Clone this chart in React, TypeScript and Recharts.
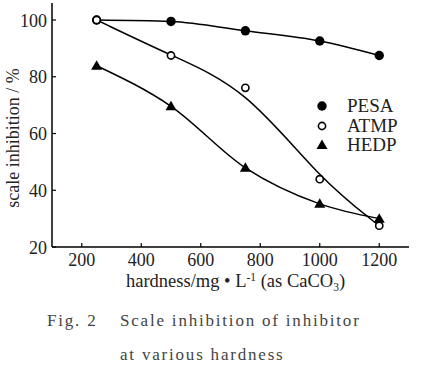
import React from 'react';
import { LineChart, Line, XAxis, YAxis, ReferenceArea } from 'recharts';

const hardness = [250, 500, 750, 1000, 1200];
const pesa = [100, 99.5, 96.2, 92.6, 87.5];
const atmp = [100, 87.5, 76.1, 43.9, 27.5];
const hedp = [83.9, 69.6, 47.9, 35.2, 30.0];
const xTicks = [200, 400, 600, 800, 1000, 1200];
const yTicks = [20, 40, 60, 80, 100];
const seriesNames = ['PESA', 'ATMP', 'HEDP'];
const curveTypes: Record<string, any> = { PESA: 'monotone', ATMP: 'basis', HEDP: 'monotone' };

const data = hardness.map((h, i) => ({ h, PESA: pesa[i], ATMP: atmp[i], HEDP: hedp[i] }));

const SERIF = '"Liberation Serif", serif';

const XTick = (props: any) => {
  const { x, y, payload } = props;
  return (
    <g>
      <line x1={x} y1={y} x2={x} y2={y - 4} stroke="#000" strokeWidth={1.2} />
      <text x={x} y={y + 18.5} textAnchor="middle" fontFamily={SERIF} fontSize={18} fill="#222">
        {payload.value}
      </text>
    </g>
  );
};

const YTick = (props: any) => {
  const { x, y, payload } = props;
  return (
    <g>
      <line x1={x} y1={y} x2={x + 4} y2={y} stroke="#000" strokeWidth={1.2} />
      <text x={x - 5} y={y + 6.5} textAnchor="end" fontFamily={SERIF} fontSize={18} fill="#222">
        {payload.value}
      </text>
    </g>
  );
};

const marker = (name: string, cx: number, cy: number, key?: any) => {
  if (name === 'PESA') return <circle key={key} cx={cx} cy={cy} r={4.7} fill="#000" />;
  if (name === 'ATMP')
    return <circle key={key} cx={cx} cy={cy} r={3.6} fill="#fff" stroke="#000" strokeWidth={1.6} />;
  return (
    <polygon
      key={key}
      points={`${cx},${cy - 5.5} ${cx - 5.5},${cy + 4} ${cx + 5.5},${cy + 4}`}
      fill="#000"
    />
  );
};

const makeDot = (name: string) => (p: any) => marker(name, p.cx, p.cy, p.index);

const XLabel = (props: any) => {
  const vb = props.viewBox;
  const cx = vb.x + vb.width / 2 + 5;
  return (
    <text x={cx} y={287} textAnchor="middle" fontFamily={SERIF} fontSize={18.5} fill="#222">
      hardness/mg • L
      <tspan dy={-6} fontSize={11.5}>-1</tspan>
      <tspan dy={6}> (as CaCO</tspan>
      <tspan dy={4} fontSize={11.5}>3</tspan>
      <tspan dy={-4}>)</tspan>
    </text>
  );
};

const YLabel = (props: any) => {
  const vb = props.viewBox;
  const cy = vb.y + vb.height / 2 + 13;
  const cx = 19;
  return (
    <text
      x={cx}
      y={cy}
      transform={`rotate(-90, ${cx}, ${cy})`}
      textAnchor="middle"
      fontFamily={SERIF}
      fontSize={18}
      fill="#222"
    >
      scale inhibition / %
    </text>
  );
};

export default function App() {
  return (
    <div style={{ position: 'absolute', left: 0, top: 0, width: 432, height: 370, background: '#fff' }}>
      <LineChart width={432} height={370} data={data} margin={{ top: 3, right: 23, left: 0, bottom: 73 }}>
        <XAxis
          dataKey="h"
          type="number"
          domain={[100, 1300]}
          ticks={xTicks}
          tick={<XTick />}
          tickLine={false}
          tickSize={0}
          tickMargin={0}
          height={50}
          axisLine={{ stroke: '#000', strokeWidth: 1.5 }}
          label={<XLabel />}
        />
        <YAxis
          type="number"
          domain={[20, 106]}
          ticks={yTicks}
          tick={<YTick />}
          tickLine={false}
          tickSize={0}
          tickMargin={0}
          width={52}
          axisLine={{ stroke: '#000', strokeWidth: 1.5 }}
          label={<YLabel />}
        />
        <ReferenceArea fill="none" stroke="#000" strokeWidth={1.5} ifOverflow="visible" />
        {seriesNames.map((n) => (
          <Line
            key={n}
            dataKey={n}
            type={curveTypes[n]}
            stroke="#000"
            strokeWidth={1.5}
            dot={makeDot(n)}
            activeDot={false}
            isAnimationActive={false}
          />
        ))}
      </LineChart>
      <div
        style={{
          position: 'absolute',
          left: 312,
          top: 96,
          fontFamily: SERIF,
          fontSize: 19,
          color: '#222',
          lineHeight: '19.5px',
        }}
      >
        {seriesNames.map((n) => (
          <div key={n} style={{ display: 'flex', alignItems: 'center' }}>
            <svg width={20} height={19} style={{ marginRight: 15 }}>
              {marker(n, 10, 10)}
            </svg>
            <span>{n}</span>
          </div>
        ))}
      </div>
      <div
        style={{
          position: 'absolute',
          left: 47,
          top: 304,
          fontFamily: SERIF,
          fontSize: 17,
          color: '#444',
          letterSpacing: 1.8,
          whiteSpace: 'pre',
          lineHeight: '34px',
        }}
      >
        <div>
          <span style={{ display: 'inline-block', width: 73 }}>Fig. 2</span>Scale inhibition of inhibitor
        </div>
        <div style={{ paddingLeft: 73 }}>at various hardness</div>
      </div>
    </div>
  );
}
